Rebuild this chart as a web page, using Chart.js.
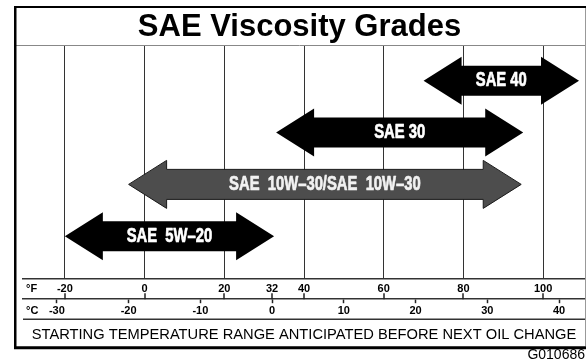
<!DOCTYPE html>
<html>
<head>
<meta charset="utf-8">
<script src="https://cdn.jsdelivr.net/npm/chart.js@4"></script>
<style>
  html, body { margin: 0; padding: 0; background: #fff; }
  #wrap { width: 586px; height: 364px; }
</style>
</head>
<body>
<div id="wrap"><canvas id="chart" width="586" height="364"></canvas></div>
<script>
// Oil grades and the starting-temperature span of each (°F)
const grades = ['SAE 40', 'SAE 30', 'SAE  10W–30/SAE  10W–30', 'SAE  5W–20'];
const lowF = [70, 33, -4, -20];
const highF = [109, 95, 94.5, 32.5];

// Tick labels of the two temperature axes
const fTicks = [-20, 0, 20, 32, 40, 60, 80, 100];
const cTicks = [-30, -20, -10, 0, 10, 20, 30, 40];

// Visible temperature range (°F) and its Celsius equivalent
const fMin = -30.5, fMax = 110.5;
const toC = f => (f - 32) * 5 / 9;

const FAMILY = "'Liberation Sans', Arial, Helvetica, sans-serif";
Chart.defaults.font.family = FAMILY;
Chart.defaults.color = '#000';

// Double-headed arrows spanning each bar's range, with the grade written inside
const arrowPlugin = {
  id: 'arrows',
  afterDatasetsDraw(chart, args, opts) {
    const ctx = chart.ctx;
    const meta = chart.getDatasetMeta(0);
    meta.data.forEach((bar, i) => {
      const x0 = Math.min(bar.x, bar.base);
      const x1 = Math.max(bar.x, bar.base);
      const y = bar.y;
      const hl = opts.headLength, hh = opts.headHalf, sh = opts.shaftHalf;
      ctx.save();
      ctx.beginPath();
      ctx.moveTo(x0, y);
      ctx.lineTo(x0 + hl, y - hh);
      ctx.lineTo(x0 + hl, y - sh);
      ctx.lineTo(x1 - hl, y - sh);
      ctx.lineTo(x1 - hl, y - hh);
      ctx.lineTo(x1, y);
      ctx.lineTo(x1 - hl, y + hh);
      ctx.lineTo(x1 - hl, y + sh);
      ctx.lineTo(x0 + hl, y + sh);
      ctx.lineTo(x0 + hl, y + hh);
      ctx.closePath();
      ctx.fillStyle = opts.fills[i];
      ctx.fill();
      if (opts.outlines[i]) {
        ctx.strokeStyle = opts.outlines[i];
        ctx.lineWidth = 1;
        ctx.stroke();
      }
      // condensed, heavy lettering inside the shaft
      ctx.translate((x0 + x1) / 2, y);
      ctx.scale(opts.textScaleX, 1);
      ctx.font = opts.font;
      ctx.fillStyle = opts.textColors[i];
      ctx.strokeStyle = opts.textColors[i];
      ctx.lineWidth = 0.7;
      ctx.lineJoin = 'round';
      ctx.textAlign = 'center';
      ctx.textBaseline = 'middle';
      ctx.fillText(chart.data.labels[i], 0, 0);
      ctx.strokeText(chart.data.labels[i], 0, 0);
      ctx.restore();
    });
  }
};

// Outer frame, title rule, °F tick marks, unit labels and rule above the caption
const framePlugin = {
  id: 'frame',
  afterDraw(chart) {
    const { ctx, chartArea, scales } = chart;
    const xs = scales.x, cs = scales.c;
    const left = scales.y.left;
    const right = chartArea.right;
    const top = chart.options.layout.padding.top;
    const bottom = cs.bottom;
    ctx.save();

    // rule under the title
    ctx.strokeStyle = '#888';
    ctx.lineWidth = 1;
    ctx.beginPath();
    ctx.moveTo(left, Math.round(chartArea.top) + 0.5);
    ctx.lineTo(right, Math.round(chartArea.top) + 0.5);
    ctx.stroke();

    // °F tick marks sitting on the Celsius rule
    ctx.strokeStyle = '#222';
    ctx.lineWidth = 1.5;
    xs.ticks.forEach(t => {
      const px = Math.round(xs.getPixelForValue(t.value));
      ctx.beginPath();
      ctx.moveTo(px, xs.bottom - 6);
      ctx.lineTo(px, xs.bottom);
      ctx.stroke();
    });

    // rule between the Celsius labels and the caption
    const tOpts = cs.options.title;
    const tFont = Chart.helpers.toFont(tOpts.font);
    const tPad = Chart.helpers.toPadding(tOpts.padding);
    const ruleY = cs.bottom - tFont.lineHeight - tPad.top - tPad.bottom;
    ctx.strokeStyle = '#333';
    ctx.lineWidth = 1.5;
    ctx.beginPath();
    ctx.moveTo(chartArea.left, ruleY);
    ctx.lineTo(right, ruleY);
    ctx.stroke();

    // unit labels at the start of each temperature row
    ctx.fillStyle = '#000';
    ctx.font = 'bold 11px ' + FAMILY;
    ctx.textAlign = 'left';
    ctx.textBaseline = 'middle';
    ctx.fillText('°F', chartArea.left + 3, xs.top + 1 + 9);
    ctx.fillText('°C', chartArea.left + 3, cs.top + 4 + 1 + 7);

    // outer frame
    ctx.strokeStyle = '#999';
    ctx.lineWidth = 1;
    ctx.beginPath();
    ctx.moveTo(right + 0.5, top);
    ctx.lineTo(right + 0.5, bottom);
    ctx.stroke();
    ctx.strokeStyle = '#000';
    ctx.lineWidth = 2;
    ctx.beginPath();
    ctx.moveTo(left, top);
    ctx.lineTo(right + 1, top);
    ctx.stroke();
    ctx.lineWidth = 2.5;
    ctx.beginPath();
    ctx.moveTo(left + 1.25, top - 1);
    ctx.lineTo(left + 1.25, bottom + 2);
    ctx.stroke();
    ctx.lineWidth = 3;
    ctx.beginPath();
    ctx.moveTo(left, bottom + 1.5);
    ctx.lineTo(right + 1, bottom + 1.5);
    ctx.stroke();
    ctx.restore();
  }
};

new Chart(document.getElementById('chart'), {
  type: 'bar',
  data: {
    labels: grades,
    datasets: [{
      data: grades.map((g, i) => ({ x: [lowF[i], highF[i]], y: i })),
      backgroundColor: 'rgba(0,0,0,0)',
      borderWidth: 0
    }]
  },
  options: {
    indexAxis: 'y',
    responsive: false,
    devicePixelRatio: 1,
    animation: false,
    events: [],
    layout: { padding: { top: 7, left: 14, right: 1, bottom: 0 } },
    scales: {
      x: {
        type: 'linear',
        position: 'bottom',
        min: fMin,
        max: fMax,
        afterBuildTicks: s => { s.ticks = fTicks.map(v => ({ value: v })); },
        grid: {
          drawTicks: false,
          color: c => (c.tick && c.tick.value === 32) ? 'rgba(0,0,0,0)' : '#333',
          lineWidth: 1
        },
        border: { display: true, color: '#333', width: 1.5 },
        ticks: {
          padding: 1,
          color: '#000',
          font: { size: 11, weight: 'bold', lineHeight: '18px' }
        }
      },
      c: {
        type: 'linear',
        axis: 'x',
        position: 'bottom',
        weight: 1,
        min: toC(fMin),
        max: toC(fMax),
        afterBuildTicks: s => { s.ticks = cTicks.map(v => ({ value: v })); },
        grid: { drawOnChartArea: false, drawTicks: true, tickLength: 4, color: '#222', tickWidth: 1.5 },
        border: { display: true, color: '#333', width: 1.5 },
        ticks: {
          padding: 1,
          color: '#000',
          font: { size: 11, weight: 'bold', lineHeight: '14px' }
        },
        title: {
          display: true,
          text: 'STARTING TEMPERATURE RANGE ANTICIPATED BEFORE NEXT OIL CHANGE',
          color: '#000',
          font: { size: 14.7, weight: 'normal', lineHeight: '18px' },
          padding: { top: 7, bottom: 2 }
        }
      },
      y: {
        type: 'linear',
        reverse: true,
        offset: false,
        min: -0.69,
        max: 3.83,
        grid: { display: false },
        border: { display: false },
        ticks: { display: false },
        afterFit: s => { s.width = 9; }
      }
    },
    plugins: {
      legend: { display: false },
      tooltip: { enabled: false },
      title: {
        display: true,
        text: 'SAE Viscosity Grades',
        color: '#000',
        font: { size: 31, weight: 'bold', lineHeight: '28px' },
        padding: { top: 6, bottom: 4 }
      },
      subtitle: {
        display: true,
        position: 'bottom',
        align: 'end',
        text: 'G010686',
        color: '#000',
        font: { size: 14, weight: 'normal', lineHeight: 1.2 },
        padding: { top: 1, bottom: 0 }
      },
      arrows: {
        headLength: 38,
        headHalf: 24,
        shaftHalf: 15,
        fills: ['#000', '#000', '#4d4d4d', '#000'],
        outlines: [null, null, '#1a1a1a', null],
        textColors: ['#fff', '#fff', '#f2f2f2', '#fff'],
        font: 'bold 20px ' + FAMILY,
        textScaleX: 0.74
      }
    }
  },
  plugins: [arrowPlugin, framePlugin]
});
</script>
</body>
</html>
